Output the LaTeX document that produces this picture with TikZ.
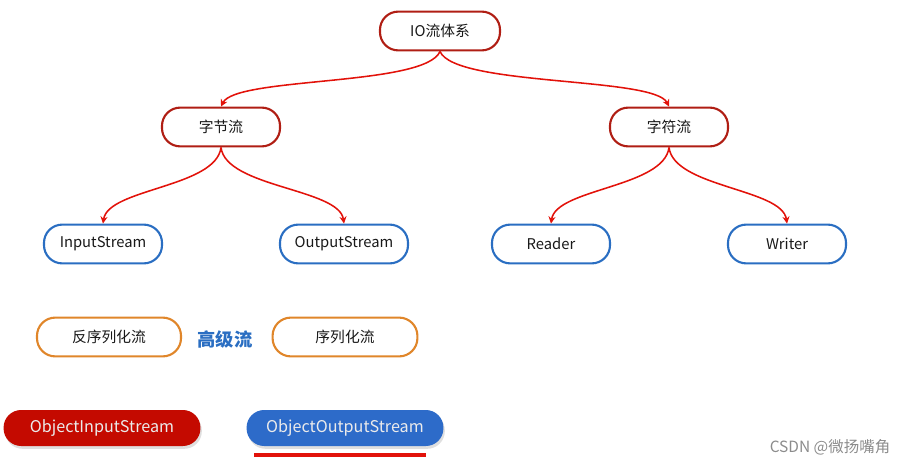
\documentclass[tikz,border=0pt]{standalone}
\usepackage{fontspec}
\setmainfont{Noto Sans CJK SC}
\usetikzlibrary{shadows,arrows.meta}

\definecolor{boxred}{HTML}{B01E14}
\definecolor{linered}{HTML}{E2120A}
\definecolor{boxblue}{HTML}{2A6EC2}
\definecolor{boxorange}{HTML}{E0862A}
\definecolor{fillred}{HTML}{C40A00}
\definecolor{fillblue}{HTML}{2D6BC9}

\begin{document}
\begin{tikzpicture}[x=0.025cm,y=-0.025cm]
        \tikzset{box style/.style={draw, line width=1.5pt, rectangle, rounded corners=13pt, fill=white, text=black!90, minimum height=0.97cm, font=\fontsize{10.5}{12}\selectfont}}
        \tikzset{fill style/.style={rectangle, rounded corners=12.5pt, text=white!92!black, minimum height=0.9cm, minimum width=4.92cm, font=\fontsize{11.5}{13}\selectfont, drop shadow={opacity=0.25, shadow xshift=1pt, shadow yshift=-2pt}}}
        \tikzset{line style/.style={line width=1.1pt, color=linered, -{Stealth[length=5pt,width=5pt]}}}

        \useasboundingbox (0,0) rectangle (919,466);

        % tree
        \node[box style, draw=boxred, minimum width=3cm] (io) at (440,31) {IO流体系};
        \node[box style, draw=boxred, minimum width=2.95cm] (byte) at (221,127) {字节流};
        \node[box style, draw=boxred, minimum width=2.95cm] (char) at (669,127) {字符流};
        \node[box style, draw=boxblue, minimum width=2.95cm] (in) at (103,244) {InputStream};
        \node[box style, draw=boxblue, minimum width=3.2cm] (out) at (344,244) {OutputStream};
        \node[box style, draw=boxblue, minimum width=2.95cm] (reader) at (551,244) {Reader};
        \node[box style, draw=boxblue, minimum width=2.95cm] (writer) at (787,244) {Writer};

        \draw[line style] (io.south) .. controls +(-15,35) and +(15,-30) .. (byte.north);
        \draw[line style] (io.south) .. controls +(15,35) and +(-15,-30) .. (char.north);
        \draw[line style] (byte.south) .. controls +(-5,40) and +(5,-35) .. (in.north);
        \draw[line style] (byte.south) .. controls +(5,40) and +(-5,-35) .. (out.north);
        \draw[line style] (char.south) .. controls +(-5,40) and +(5,-35) .. (reader.north);
        \draw[line style] (char.south) .. controls +(5,40) and +(-5,-35) .. (writer.north);

        % high level streams
        \node[box style, draw=boxorange, minimum width=3.6cm] (deser) at (109,337) {反序列化流};
        \node[box style, draw=boxorange, minimum width=3.62cm] (ser) at (345,337) {序列化流};
        \node[text=boxblue, font=\fontsize{13}{15}\selectfont\bfseries] (high) at (225,339) {高级流};

        \node[fill style, fill=fillred] (ois) at (102,428) {ObjectInputStream};
        \node[fill style, fill=fillblue] (oos) at (345,428) {ObjectOutputStream};
        \draw[line width=3pt, color=linered] ([shift={(8,9)}]oos.south west) -- ([shift={(-18,9)}]oos.south east);

        \node[text=black!45, font=\fontsize{11}{13}\selectfont] (mark) at (830,447) {CSDN @微扬嘴角};
    \end{tikzpicture}
\end{document}
